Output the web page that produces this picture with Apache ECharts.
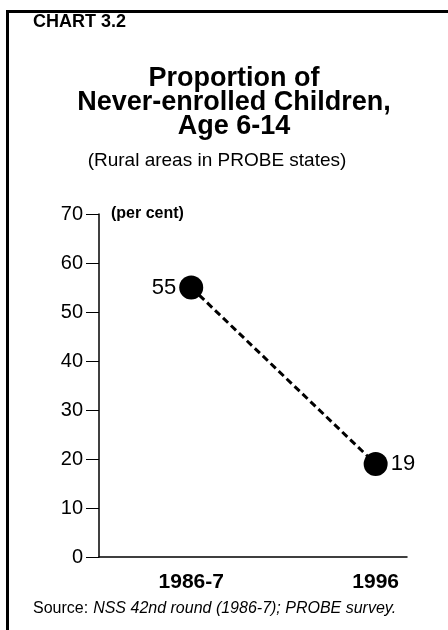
<!DOCTYPE html>
<html>
<head>
<meta charset="utf-8">
<title>Chart 3.2</title>
<script src="https://cdn.jsdelivr.net/npm/echarts@6/dist/echarts.min.js"></script>
<style>
  html, body { margin: 0; padding: 0; background: #fff; }
  #main { width: 448px; height: 630px; }
</style>
</head>
<body>
<div id="main"></div>
<script>
// categories and values
var years = ['1986-7', '1996'];
var neverEnrolled = [55, 19];
var yTicks = [0, 10, 20, 30, 40, 50, 60, 70];

var font = '"Liberation Sans", Arial, sans-serif';
var myChart = echarts.init(document.getElementById('main'));

var points = [];
for (var i = 0; i < neverEnrolled.length; i++) {
    points.push({
        value: [i, neverEnrolled[i]],
        label: { position: i == 0 ? 'left' : 'right' }
    });
}

var option = {
    backgroundColor: '#fff',
    textStyle: { fontFamily: font, color: '#000' },
    title: [
        {
            text: 'CHART 3.2',
            left: 33, top: 13, padding: 0,
            textStyle: { fontSize: 18, fontWeight: 'bold', color: '#000', fontFamily: font }
        },
        {
            text: 'Proportion of\nNever-enrolled Children,\nAge 6-14',
            left: 234, top: 67, padding: 0, textAlign: 'center',
            textStyle: { fontSize: 27, fontWeight: 'bold', lineHeight: 24, color: '#000', fontFamily: font }
        },
        {
            text: '(Rural areas in PROBE states)',
            left: 217, top: 151, padding: 0, textAlign: 'center',
            textStyle: { fontSize: 19, fontWeight: 'normal', color: '#000', fontFamily: font }
        },
        {
            text: '{n|Source:} {i|NSS 42nd round (1986-7); PROBE survey.}',
            left: 33, top: 600, padding: 0,
            textStyle: {
                fontWeight: 'normal',
                rich: {
                    n: { fontSize: 16, fontWeight: 'normal', fontFamily: font, color: '#000' },
                    i: { fontSize: 16, fontWeight: 'normal', fontStyle: 'italic', fontFamily: font, color: '#000' }
                }
            }
        }
    ],
    graphic: [
        { type: 'line', shape: { x1: 7.5, y1: 11.5, x2: 7.5, y2: 640 }, style: { stroke: '#000', lineWidth: 3 } },
        { type: 'line', shape: { x1: 6, y1: 11.5, x2: 460, y2: 11.5 }, style: { stroke: '#000', lineWidth: 3 } }
    ],
    grid: { left: 99, right: 41, top: 214, bottom: 73 },
    xAxis: {
        type: 'value',
        min: -0.5,
        max: 1.17,
        interval: 0.5,
        splitLine: { show: false },
        axisTick: { show: false },
        axisLine: { show: true, onZero: false, lineStyle: { color: '#000', width: 1.5 } },
        axisLabel: {
            margin: 15,
            showMaxLabel: false,
            showMinLabel: false,
            color: '#000',
            fontSize: 21,
            fontWeight: 'bold',
            fontFamily: font,
            formatter: function (v) {
                var k = Math.round(v);
                return Math.abs(v - k) < 1e-6 && years[k] ? years[k] : '';
            }
        }
    },
    yAxis: {
        type: 'value',
        min: yTicks[0],
        max: yTicks[yTicks.length - 1],
        interval: 10,
        name: '(per cent)',
        nameLocation: 'end',
        nameGap: 0,
        nameTextStyle: {
            align: 'left', verticalAlign: 'middle', padding: [0, 0, 0, 12],
            fontSize: 16, fontWeight: 'bold', color: '#000', fontFamily: font
        },
        splitLine: { show: false },
        axisLine: { show: true, onZero: false, lineStyle: { color: '#000', width: 1.5 } },
        axisTick: { show: true, inside: false, length: 13, lineStyle: { color: '#000', width: 1 } },
        axisLabel: { margin: 16, color: '#000', fontSize: 20, fontFamily: font }
    },
    series: [
        {
            name: 'Never-enrolled',
            type: 'line',
            data: points,
            symbol: 'circle',
            symbolSize: 24,
            itemStyle: { color: '#000' },
            lineStyle: { color: '#000', width: 3, type: [7, 4] },
            label: {
                show: true,
                distance: 3,
                fontSize: 22,
                color: '#000',
                fontFamily: font,
                formatter: function (p) { return p.value[1]; }
            },
            animation: false
        }
    ]
};

myChart.setOption(option);
</script>
</body>
</html>
